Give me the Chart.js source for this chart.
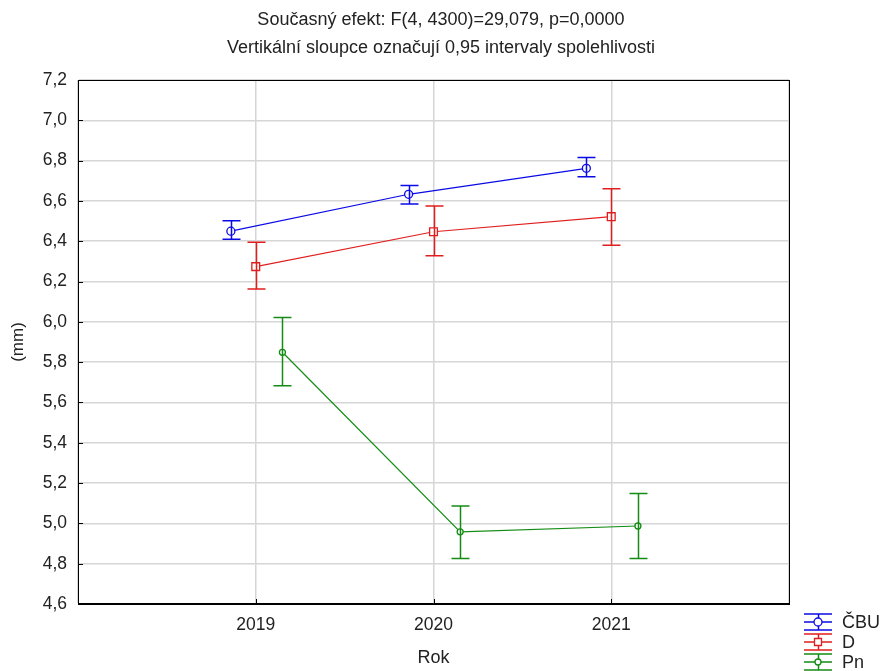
<!DOCTYPE html>
<html>
<head>
<meta charset="utf-8">
<script src="https://cdn.jsdelivr.net/npm/chart.js@4.4.1/dist/chart.umd.min.js"></script>
<style>
    html, body { margin: 0; padding: 0; background: #fff; }
    #wrap { width: 882px; height: 671px; }
</style>
</head>
<body>
<div id="wrap"><canvas id="meanChart" width="882" height="671"></canvas></div>
<script>
// data
const years = [2019, 2020, 2021];
const seriesNames = ['ČBU', 'D', 'Pn'];
const yTicks = [4.6, 4.8, 5.0, 5.2, 5.4, 5.6, 5.8, 6.0, 6.2, 6.4, 6.6, 6.8, 7.0, 7.2];

const cbuMean = [6.45, 6.633, 6.762];
const cbuLow = [6.41, 6.585, 6.72];
const cbuHigh = [6.502, 6.676, 6.815];

const dMean = [6.274, 6.447, 6.522];
const dLow = [6.163, 6.328, 6.38];
const dHigh = [6.395, 6.575, 6.661];

const pnMean = [5.849, 4.958, 4.987];
const pnLow = [5.683, 4.826, 4.826];
const pnHigh = [6.022, 5.086, 5.148];

// horizontal shift of each series around the year (in years)
const yearShift = [-0.14, 0, 0.15];

const COLORS = ['#0a0ae6', '#e01e1e', '#148c14'];
const FONT = "'Liberation Sans', Arial, sans-serif";
const TEXT = '#222';

function points(means, shift) {
    return years.map((y, i) => ({ x: y + shift, y: means[i] }));
}

const means = [cbuMean, dMean, pnMean];
const lows = [cbuLow, dLow, pnLow];
const highs = [cbuHigh, dHigh, pnHigh];

// error bars, plot frame, inside ticks and legend
const decorPlugin = {
    id: 'decor',
    afterDatasetsDraw(chart) {
        const ctx = chart.ctx;
        const ys = chart.scales.y;
        ctx.save();
        ctx.lineWidth = 1.5;
        chart.data.datasets.forEach((ds, di) => {
            const meta = chart.getDatasetMeta(di);
            ctx.strokeStyle = ds.borderColor;
            meta.data.forEach((pt, i) => {
                const x = Math.round(pt.x) + 0.5;
                const top = ys.getPixelForValue(highs[di][i]);
                const bot = ys.getPixelForValue(lows[di][i]);
                ctx.beginPath();
                ctx.moveTo(x, top); ctx.lineTo(x, bot);
                ctx.moveTo(x - 9, top); ctx.lineTo(x + 9, top);
                ctx.moveTo(x - 9, bot); ctx.lineTo(x + 9, bot);
                ctx.stroke();
            });
        });
        ctx.restore();
    },
    afterDraw(chart) {
        const ctx = chart.ctx;
        const a = chart.chartArea;
        const xs = chart.scales.x;
        const ys = chart.scales.y;
        ctx.save();
        ctx.strokeStyle = '#000';
        ctx.lineWidth = 1;
        ctx.strokeRect(Math.round(a.left) + 0.5, Math.round(a.top) + 0.5,
            Math.round(a.right - a.left), Math.round(a.bottom - a.top));
        ctx.beginPath();
        yTicks.forEach(v => {
            const py = Math.round(ys.getPixelForValue(v)) + 0.5;
            ctx.moveTo(a.left, py); ctx.lineTo(a.left + 5, py);
        });
        years.forEach(v => {
            const px = Math.round(xs.getPixelForValue(v)) + 0.5;
            ctx.moveTo(px, a.bottom); ctx.lineTo(px, a.bottom - 5);
        });
        ctx.stroke();

        // legend below the right corner
        const lx = 818;
        let ly = 622;
        ctx.font = '18px ' + FONT;
        ctx.textBaseline = 'middle';
        ctx.textAlign = 'left';
        chart.data.datasets.forEach((ds, di) => {
            ctx.strokeStyle = ds.borderColor;
            ctx.lineWidth = 1.5;
            ctx.beginPath();
            ctx.moveTo(lx - 14, ly - 8); ctx.lineTo(lx + 14, ly - 8);
            ctx.moveTo(lx - 14, ly); ctx.lineTo(lx + 14, ly);
            ctx.moveTo(lx - 14, ly + 8); ctx.lineTo(lx + 14, ly + 8);
            ctx.moveTo(lx + 0.5, ly - 8); ctx.lineTo(lx + 0.5, ly + 8);
            ctx.stroke();
            ctx.lineWidth = 1.3;
            ctx.fillStyle = '#fff';
            ctx.beginPath();
            if (ds.pointStyle === 'rect') {
                ctx.rect(lx - 3.5, ly - 3.5, 7, 7);
            } else {
                ctx.arc(lx, ly, ds.pointRadius, 0, Math.PI * 2);
            }
            ctx.fill();
            ctx.stroke();
            ctx.fillStyle = TEXT;
            ctx.fillText(ds.label, 842, ly + 1);
            ly += 20;
        });
        ctx.restore();
    }
};

function initChart() {
    const ctx = document.getElementById('meanChart').getContext('2d');
    const styles = [
        { pointStyle: 'circle', pointRadius: 4 },
        { pointStyle: 'rect', pointRadius: 5.5 },
        { pointStyle: 'circle', pointRadius: 3 }
    ];
    return new Chart(ctx, {
        type: 'line',
        data: {
            datasets: seriesNames.map((name, i) => ({
                label: name,
                data: points(means[i], yearShift[i]),
                borderColor: COLORS[i],
                backgroundColor: '#fff',
                pointBackgroundColor: 'rgba(255,255,255,0.9)',
                pointBorderColor: COLORS[i],
                pointBorderWidth: 1.3,
                pointStyle: styles[i].pointStyle,
                pointRadius: styles[i].pointRadius,
                borderWidth: 1.2,
                tension: 0,
                fill: false
            }))
        },
        options: {
            responsive: false,
            animation: false,
            devicePixelRatio: 1,
            layout: { padding: 0 },
            plugins: {
                legend: { display: false },
                tooltip: { enabled: false },
                title: {
                    display: true,
                    text: ['Současný efekt: F(4, 4300)=29,079, p=0,0000',
                           'Vertikální sloupce označují 0,95 intervaly spolehlivosti'],
                    color: TEXT,
                    font: { family: FONT, size: 18, weight: 'normal', lineHeight: 1.556 },
                    padding: { top: 6, bottom: 18 }
                }
            },
            scales: {
                x: {
                    type: 'linear',
                    min: 2018,
                    max: 2022,
                    afterFit: s => { s.height = 67; },
                    afterBuildTicks: s => { s.ticks = [2018, 2019, 2020, 2021, 2022].map(v => ({ value: v })); },
                    ticks: {
                        color: TEXT,
                        font: { family: FONT, size: 17.5 },
                        padding: 11,
                        callback: v => (v === 2018 || v === 2022) ? '' : String(v)
                    },
                    grid: { color: '#d6d6d6', lineWidth: 1.5, drawTicks: false },
                    border: { color: '#000', width: 1 },
                    title: {
                        display: true,
                        text: 'Rok',
                        color: TEXT,
                        font: { family: FONT, size: 18 },
                        padding: { top: 0, bottom: 2 }
                    }
                },
                y: {
                    min: 4.6,
                    max: 7.2,
                    afterFit: s => { s.width = 78; },
                    afterBuildTicks: s => { s.ticks = yTicks.map(v => ({ value: v })); },
                    ticks: {
                        color: TEXT,
                        font: { family: FONT, size: 17.5 },
                        padding: 11,
                        callback: v => v.toFixed(1).replace('.', ',')
                    },
                    grid: { color: '#d6d6d6', lineWidth: 1.5, drawTicks: false },
                    border: { color: '#000', width: 1 },
                    title: {
                        display: true,
                        text: '(mm)',
                        color: TEXT,
                        font: { family: FONT, size: 17 },
                        padding: { top: 8, bottom: 0 }
                    }
                },
                // empty strip on the right that holds the legend
                yRight: {
                    position: 'right',
                    min: 4.6,
                    max: 7.2,
                    afterFit: s => { s.width = 93; },
                    ticks: { display: false },
                    grid: { display: false },
                    border: { display: false }
                }
            }
        },
        plugins: [decorPlugin]
    });
}

document.addEventListener('DOMContentLoaded', () => {
    initChart();
});
</script>
</body>
</html>
